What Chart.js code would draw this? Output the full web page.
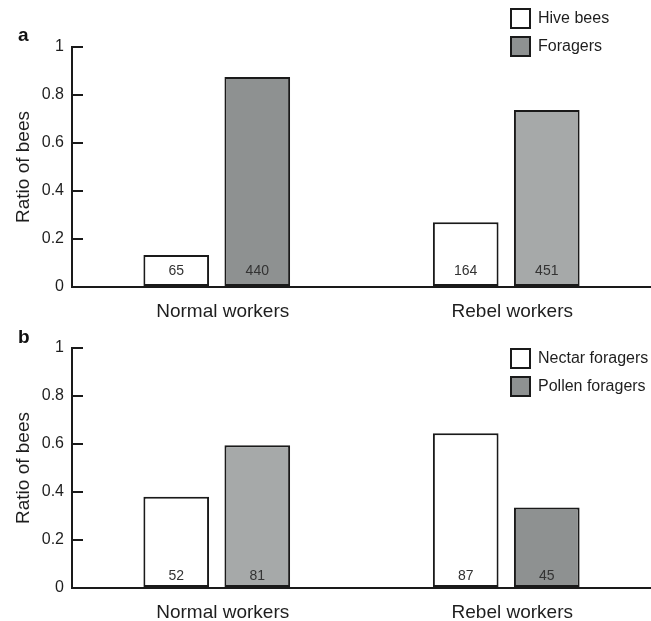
<!DOCTYPE html>
<html>
<head>
<meta charset="utf-8">
<script src="https://cdn.jsdelivr.net/npm/chart.js@4.4.0/dist/chart.umd.min.js"></script>
<style>
    body { margin: 0; background: #fff; }
    #wrap { position: relative; width: 651px; height: 621px; }
    .panel { position: absolute; left: 0; width: 651px; }
</style>
</head>
<body>
<div id="wrap">
    <div class="panel" style="top:0;height:330px"><canvas id="chartA"></canvas></div>
    <div class="panel" style="top:301px;height:320px"><canvas id="chartB"></canvas></div>
</div>
<script>
const categories = ['Normal workers', 'Rebel workers'];
const yTickLabels = ['0', '0.2', '0.4', '0.6', '0.8', '1'];

// panel a
const hiveBees = [0.133, 0.27];
const foragers = [0.875, 0.737];
const hiveCounts = [65, 164];
const foragerCounts = [440, 451];

// panel b
const nectarForagers = [0.38, 0.645];
const pollenForagers = [0.595, 0.335];
const nectarCounts = [52, 87];
const pollenCounts = [81, 45];

const FONT = "'Liberation Sans', Arial, sans-serif";
const INK = '#1a1a1a';
const TEXT = '#1e1e1e';
const DARK_GREY = '#8e9191';
const LIGHT_GREY = '#a6a9a9';

// letter, legend and the n values inside the bars
const panelDecor = {
    id: 'panelDecor',
    afterDatasetsDraw(chart, args, opts) {
        const ctx = chart.ctx;
        const yScale = chart.scales.y;
        const base = yScale.getPixelForValue(0);
        ctx.save();

        // counts near the bottom of each bar
        ctx.font = '14px ' + FONT;
        ctx.fillStyle = '#333';
        ctx.textAlign = 'center';
        ctx.textBaseline = 'middle';
        opts.counts.forEach((list, i) => {
            chart.getDatasetMeta(i).data.forEach((bar, j) => {
                ctx.fillText(String(list[j]), bar.x, base - opts.countLift);
            });
        });

        // legend
        ctx.font = '16px ' + FONT;
        ctx.textAlign = 'left';
        chart.data.datasets.forEach((ds, i) => {
            const top = opts.legendTop + i * opts.legendGap;
            ctx.fillStyle = opts.legendColors[i];
            ctx.fillRect(511, top, 19, 19);
            ctx.strokeStyle = INK;
            ctx.lineWidth = 2;
            ctx.strokeRect(511, top, 19, 19);
            ctx.fillStyle = TEXT;
            ctx.fillText(ds.label, 538, top + 10);
        });

        // panel letter
        ctx.font = 'bold 19px ' + FONT;
        ctx.fillStyle = '#111';
        ctx.textBaseline = 'alphabetic';
        ctx.fillText(opts.letter, 18, opts.letterY);
        ctx.restore();
    }
};

function makePanel(canvasId, labels, values, fills, decor, axisHeight) {
    const ctx = document.getElementById(canvasId).getContext('2d');
    return new Chart(ctx, {
        type: 'bar',
        data: {
            labels: categories,
            datasets: [{
                label: labels[0],
                data: values[0],
                backgroundColor: fills[0],
                borderColor: INK,
                borderWidth: 2,
                borderSkipped: false,
                barPercentage: 0.81,
                categoryPercentage: 0.56
            }, {
                label: labels[1],
                data: values[1],
                backgroundColor: fills[1],
                borderColor: INK,
                borderWidth: 2,
                borderSkipped: false,
                barPercentage: 0.81,
                categoryPercentage: 0.56
            }]
        },
        options: {
            responsive: true,
            maintainAspectRatio: false,
            animation: false,
            layout: { padding: { top: 47, left: 0, right: 0, bottom: 0 } },
            plugins: {
                legend: { display: false },
                tooltip: { enabled: false },
                panelDecor: decor
            },
            scales: {
                x: {
                    grid: { display: false, drawTicks: false },
                    border: { color: INK, width: 2 },
                    ticks: { color: TEXT, font: { size: 19, family: FONT }, padding: 13, labelOffset: 6 },
                    afterFit: s => { s.height = axisHeight; }
                },
                y: {
                    min: 0,
                    max: 1,
                    ticks: {
                        stepSize: 0.2,
                        padding: 19,
                        color: TEXT,
                        font: { size: 16, family: FONT },
                        callback: (v, i) => yTickLabels[i]
                    },
                    grid: { drawOnChartArea: false, drawTicks: true, tickLength: -11, color: INK, lineWidth: 2 },
                    border: { color: INK, width: 2 },
                    title: {
                        display: true,
                        text: 'Ratio of bees',
                        color: TEXT,
                        font: { size: 19, family: FONT },
                        padding: { top: 12, bottom: 0 }
                    },
                    afterFit: s => { s.width = 72; }
                }
            }
        },
        plugins: [panelDecor]
    });
}

makePanel('chartA', ['Hive bees', 'Foragers'], [hiveBees, foragers],
    ['#ffffff', [DARK_GREY, LIGHT_GREY]],
    { letter: 'a', letterY: 41, counts: [hiveCounts, foragerCounts], countLift: 16,
      legendTop: 9, legendGap: 28, legendColors: ['#ffffff', DARK_GREY] }, 43);

makePanel('chartB', ['Nectar foragers', 'Pollen foragers'], [nectarForagers, pollenForagers],
    ['#ffffff', [LIGHT_GREY, DARK_GREY]],
    { letter: 'b', letterY: 42, counts: [nectarCounts, pollenCounts], countLift: 12,
      legendTop: 48, legendGap: 28, legendColors: ['#ffffff', DARK_GREY] }, 33);
</script>
</body>
</html>
